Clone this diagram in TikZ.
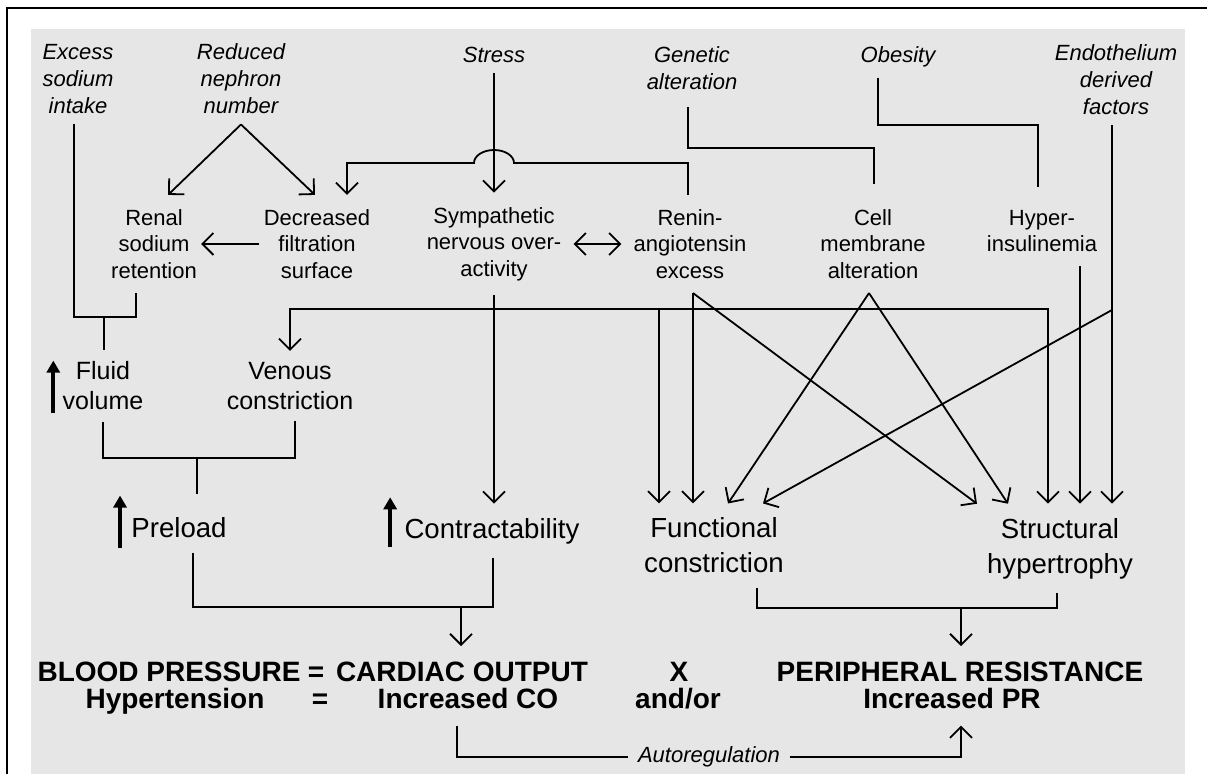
\documentclass[tikz,border=0pt]{standalone}
\usepackage{fontspec}
\setmainfont{Liberation Sans}
\usepackage{xcolor}
\definecolor{panelgray}{RGB}{230,230,230}
\usepackage{tikz}
\usetikzlibrary{arrows.meta}

\begin{document}
\begin{tikzpicture}[
    x=0.5pt, y=-0.5pt,
    cause/.style={
      font=\fontsize{11}{13.5}\selectfont\itshape, align=center,
      inner xsep=2pt, inner ysep=5pt
    },
    factor/.style={
      font=\fontsize{11}{13.3}\selectfont, align=center,
      inner xsep=2pt, inner ysep=7pt
    },
    mid/.style={
      font=\fontsize{12.5}{15}\selectfont, align=center,
      inner xsep=2pt, inner ysep=5.5pt
    },
    big/.style={
      font=\fontsize{13.8}{17.5}\selectfont, align=center,
      inner xsep=2pt, inner ysep=7pt
    },
    eqn/.style={
      font=\fontsize{14}{13.5}\selectfont\bfseries, anchor=base,
      inner xsep=2pt, inner ysep=8pt
    },
    autolbl/.style={
      font=\fontsize{11}{13}\selectfont\itshape, fill=panelgray,
      inner xsep=5pt, inner ysep=1pt
    },
    link/.style={line width=0.9pt},
    rise/.style={line width=2pt, -{Triangle[length=6pt,width=6.5pt]}},
    >={Straight Barb[length=5.5pt,width=11pt]}
  ]
    \useasboundingbox (0,0) rectangle (1207,774);
    \fill[panelgray] (31,29) rectangle (1185,774);
    \draw[line width=1.2pt] (7,774) -- (7,8) -- (1207,8);

    % primary causes
    \node[cause] (salt)    at (78,79)   {Excess\\sodium\\intake};
    \node[cause] (nephron) at (241,79)  {Reduced\\nephron\\number};
    \node[cause] (stress)  at (494,55)  {Stress};
    \node[cause] (genetic) at (692,68)  {Genetic\\alteration};
    \node[cause] (obesity) at (898,57)  {Obesity};
    \node[cause] (endo)    at (1116,80) {Endothelium\\derived\\factors};

    % intermediate mechanisms
    \node[factor] (renal)   at (154,244)  {Renal\\sodium\\retention};
    \node[factor] (filtr)   at (317,244)  {Decreased\\filtration\\surface};
    \node[factor] (sns)     at (494,244)  {Sympathetic\\nervous over-\\activity};
    \node[factor] (ras)     at (690,244)  {Renin-\\angiotensin\\excess};
    \node[factor] (cell)    at (873,244)  {Cell\\membrane\\alteration};
    \node[factor] (insulin) at (1042,231) {Hyper-\\insulinemia};

    \node[mid] (fluid)  at (103,386) {Fluid\\volume};
    \node[mid] (venous) at (290,386) {Venous\\constriction};

    \node[big] (preload)    at (179,528)    {Preload};
    \node[big] (contract)   at (492,531)    {Contractability};
    \node[big] (functional) at (714,545.5)  {Functional\\constriction};
    \node[big] (structural) at (1060,548.5) {Structural\\hypertrophy};

    % the equation rows
    \node[eqn] (bp)    at (169,682) {BLOOD PRESSURE};
    \node[eqn] (eq1)   at (316,682) {=};
    \node[eqn] (co)    at (462,682) {CARDIAC OUTPUT};
    \node[eqn] (xsign) at (679,682) {X};
    \node[eqn] (pr)    at (960,682) {PERIPHERAL RESISTANCE};
    \node[eqn] (ht)    at (175,709) {Hypertension};
    \node[eqn] (eq2)   at (320,709) {=};
    \node[eqn] (ico)   at (468,709) {Increased CO};
    \node[eqn] (andor) at (678,709) {and/or};
    \node[eqn] (ipr)   at (952,709) {Increased PR};

    \coordinate (fvj)  at (104,317);
    \coordinate (hop)  at (494,163);
    \coordinate (symj) at (494,309);
    \coordinate (endj) at (1112,310);
    \coordinate (plj)  at (197,458);
    \coordinate (coj)  at (461,607);
    \coordinate (prj)  at (961,608);
    \coordinate (autoj) at (961,757);

    % top part
    \draw[link] ([xshift=-2pt]salt.south) |- (fvj) -| ([xshift=-9pt]renal.south);
    \draw[link] (fvj) -- (fvj |- fluid.north);
    \draw[link,->] (nephron.south) -- ([xshift=7pt]renal.north);
    \draw[link,->] (nephron.south) -- ([xshift=-1pt]filtr.north);
    \draw[link,->] (filtr.west) -- (renal.east);
    \draw[link,->] ([xshift=-1pt]ras.north) |- ([xshift=10pt]hop)
      arc[start angle=0, end angle=180, x radius=10pt, y radius=6.5pt]
      -| ([xshift=15pt]filtr.north);
    \draw[link,->] (stress) -- (sns);
    \draw[link,<->,shorten <=4pt,shorten >=4pt] (sns) -- (ras);
    \draw[link] ([xshift=-2pt,yshift=-3.5pt]genetic.south) -- ++(0,41)
      -| ([xshift=0.5pt,yshift=5.5pt]cell.north);
    \draw[link] ([xshift=-10pt]obesity.south) -- ++(0,47)
      -| ([xshift=-2pt,yshift=4.5pt]insulin.north);

    % into the vessels
    \draw[link,->] ([xshift=19pt]insulin.south) -- ([xshift=10pt]structural.north);
    \draw[link,->] ([xshift=-2pt]endo.south) -- ([xshift=26pt]structural.north);
    \draw[link,->] (endj) -- ([xshift=24.5pt]functional.north);
    \draw[link,->] (sns) -- (sns |- contract.north);
    \draw[link,->] (symj) -| (venous.north);
    \draw[link,->] (symj) -| ([xshift=-6pt]structural.north);
    \draw[link,->] (symj) -| ([xshift=-27.5pt]functional.north);
    \draw[link,->] ([xshift=1.5pt]ras.south) -- ([xshift=-10.5pt]functional.north);
    \draw[link,->] ([xshift=1.5pt]ras.south) -- ([xshift=-41.5pt]structural.north);
    \draw[link,->] ([xshift=-2pt]cell.south) -- ([xshift=7pt]functional.north);
    \draw[link,->] ([xshift=-2pt]cell.south) -- ([xshift=-26pt]structural.north);

    % increases
    \draw[rise] ([xshift=-2.5pt,yshift=4.5pt]fluid.south west)
      -- ([xshift=-2.5pt,yshift=30.5pt]fluid.south west);
    \draw[rise] ([xshift=-3.5pt,yshift=2.5pt]preload.south west)
      -- ([xshift=-3.5pt,yshift=28.5pt]preload.south west);
    \draw[rise] ([xshift=-5pt,yshift=5.5pt]contract.south west)
      -- ([xshift=-5pt,yshift=30.5pt]contract.south west);

    % bottom part
    \draw[link] (fluid.south) |- (plj) -| ([xshift=2.5pt]venous.south);
    \draw[link] (plj) -- ([xshift=9pt,yshift=4.5pt]preload.north);
    \draw[link] ([xshift=7pt]preload.south) |- (coj) -| ([xshift=0.5pt]contract.south);
    \draw[link,->] (coj) -- (coj |- co.north);
    \draw[link] ([xshift=21.5pt]functional.south) |- (prj) -| ([xshift=-1.5pt]structural.south);
    \draw[link,->] (prj) -- (prj |- pr.north);
    \draw[link,->] ([xshift=-5.5pt]ico.south) |- node[pos=0.75, autolbl] {Autoregulation} (autoj)
      -- (autoj |- ipr.south);
  \end{tikzpicture}
\end{document}
